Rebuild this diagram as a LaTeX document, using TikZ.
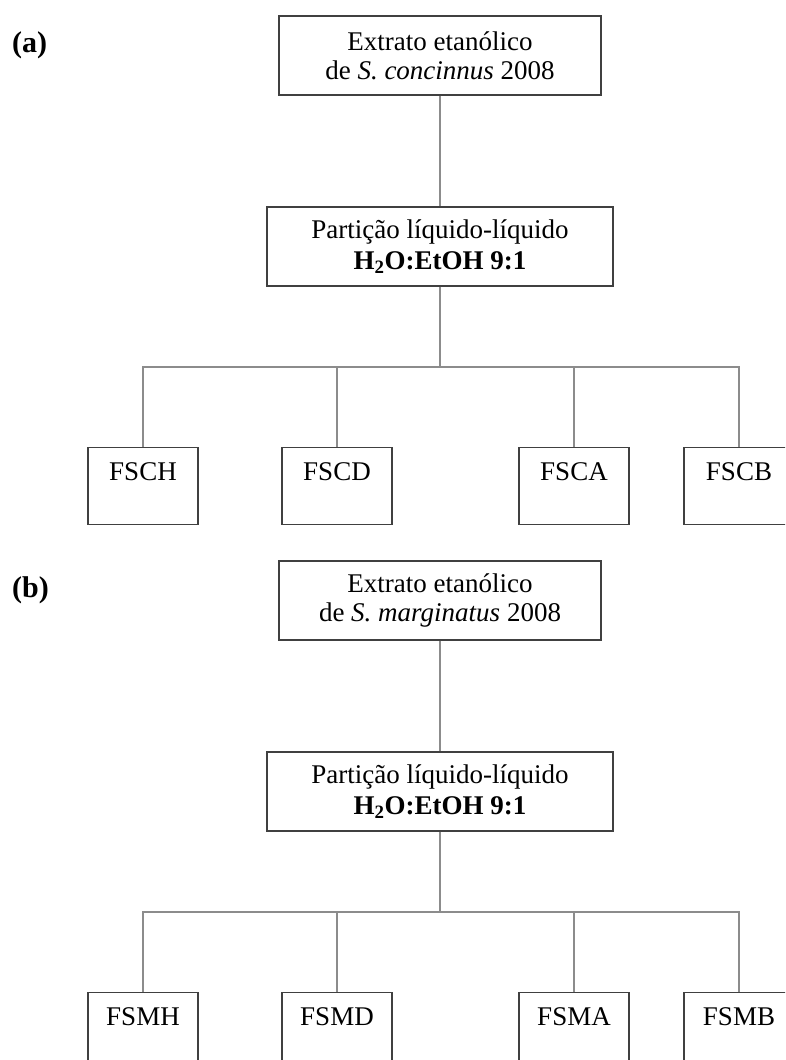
\documentclass[tikz,border=0pt]{standalone}
\usepackage{fontspec}
\setmainfont{Liberation Serif}

\tikzset{
    box/.style={draw=black!75, line width=1.4pt, inner sep=0pt, align=center,
        font=\fontsize{27}{29}\selectfont},
    fraction/.style={box, minimum width=110pt, text height=33pt, text depth=44pt},
    link/.style={draw=black!45, line width=1.2pt},
    panellabel/.style={anchor=west, inner sep=0pt, font=\fontsize{30}{30}\selectfont\bfseries}
}

\begin{document}
\begin{tikzpicture}[x=1pt,y=-1pt]
    \useasboundingbox (0,0) rectangle (785,1060);
    \clip (0,0) rectangle (785,1060);

    \foreach \pnl/\spc/\fr/\dy in {a/concinnus/FSC/0, b/marginatus/FSM/545}
    {
        \begin{scope}[yshift=-\dy pt]
            \node[panellabel] (\pnl-lbl) at (12,45) {(\pnl)};

            \node[box, minimum width=322pt, minimum height=79pt] (\pnl-ext) at (440,55.5)
                {Extrato etanólico\\de \textit{S. \spc} 2008};
            \node[box, minimum width=346pt, minimum height=79pt] (\pnl-part) at (440,246.5)
                {Partição líquido-líquido\\[2pt]\textbf{H\textsubscript{2}O:EtOH 9:1}};
            \coordinate (\pnl-bar) at (440,367);

            \draw[link] (\pnl-ext.south) -- (\pnl-part.north);
            \draw[link] (\pnl-part.south) -- (\pnl-bar);

            \foreach \f/\x in {H/143, D/337, A/574, B/739}
            {
                \node[fraction, anchor=north] (\pnl-\f) at (\x,447) {\fr\f};
                \draw[link] (\pnl-\f.north) |- (\pnl-bar);
            }
        \end{scope}
    }
\end{tikzpicture}
\end{document}
